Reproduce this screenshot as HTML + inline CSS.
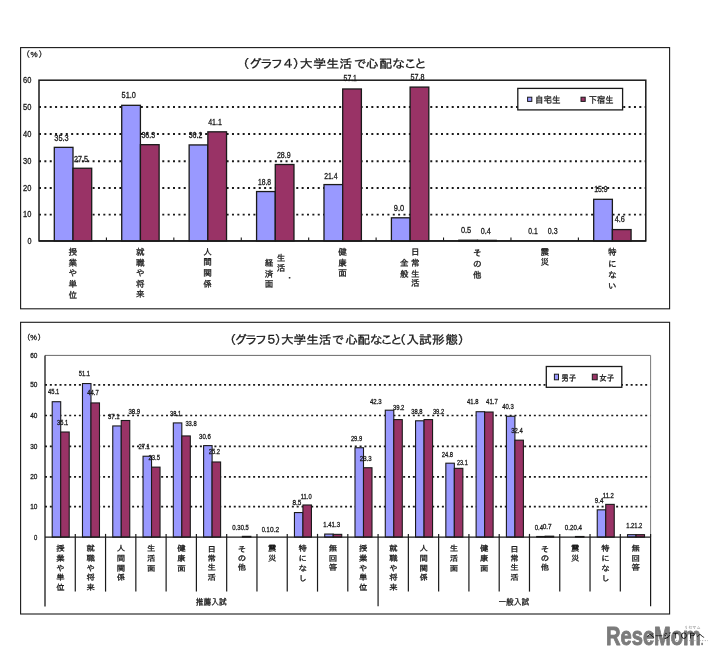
<!DOCTYPE html>
<html lang="ja"><head><meta charset="utf-8"><title>大学生活で心配なこと</title>
<style>html,body{margin:0;padding:0;background:#fff}svg{display:block}text{white-space:pre}</style></head><body>
<svg width="716" height="659" viewBox="0 0 716 659">
<rect x="0" y="0" width="716" height="659" fill="#ffffff"/>
<rect x="20.60" y="47.60" width="649.00" height="261.20" fill="#fff" stroke="#1a1a1a" stroke-width="1.1"/>
<line x1="39.00" y1="214.60" x2="645.80" y2="214.60" stroke="#1a1a1a" stroke-width="1.9" stroke-dasharray="2 3.36"/>
<line x1="39.00" y1="188.00" x2="645.80" y2="188.00" stroke="#1a1a1a" stroke-width="1.9" stroke-dasharray="2 3.36"/>
<line x1="39.00" y1="161.20" x2="645.80" y2="161.20" stroke="#1a1a1a" stroke-width="1.9" stroke-dasharray="2 3.36"/>
<line x1="39.00" y1="134.00" x2="645.80" y2="134.00" stroke="#1a1a1a" stroke-width="1.9" stroke-dasharray="2 3.36"/>
<line x1="39.00" y1="107.00" x2="645.80" y2="107.00" stroke="#1a1a1a" stroke-width="1.9" stroke-dasharray="2 3.36"/>
<rect x="39.00" y="80.20" width="606.80" height="160.70" fill="none" stroke="#1a1a1a" stroke-width="1.5"/>
<rect x="54.30" y="147.35" width="18.70" height="93.55" fill="#9999ff" stroke="#1a1a1a" stroke-width="1.3"/>
<rect x="73.00" y="168.25" width="18.70" height="72.65" fill="#993366" stroke="#1a1a1a" stroke-width="1.3"/>
<rect x="121.72" y="105.31" width="18.70" height="135.59" fill="#9999ff" stroke="#1a1a1a" stroke-width="1.3"/>
<rect x="140.42" y="144.68" width="18.70" height="96.22" fill="#993366" stroke="#1a1a1a" stroke-width="1.3"/>
<line x1="106.42" y1="237.50" x2="106.42" y2="240.90" stroke="#1a1a1a" stroke-width="1.1" />
<rect x="189.14" y="144.94" width="18.70" height="95.96" fill="#9999ff" stroke="#1a1a1a" stroke-width="1.3"/>
<rect x="207.84" y="131.82" width="18.70" height="109.08" fill="#993366" stroke="#1a1a1a" stroke-width="1.3"/>
<line x1="173.84" y1="237.50" x2="173.84" y2="240.90" stroke="#1a1a1a" stroke-width="1.1" />
<rect x="256.57" y="191.55" width="18.70" height="49.35" fill="#9999ff" stroke="#1a1a1a" stroke-width="1.3"/>
<rect x="275.27" y="164.50" width="18.70" height="76.40" fill="#993366" stroke="#1a1a1a" stroke-width="1.3"/>
<line x1="241.27" y1="237.50" x2="241.27" y2="240.90" stroke="#1a1a1a" stroke-width="1.1" />
<rect x="323.99" y="184.58" width="18.70" height="56.32" fill="#9999ff" stroke="#1a1a1a" stroke-width="1.3"/>
<rect x="342.69" y="88.97" width="18.70" height="151.93" fill="#993366" stroke="#1a1a1a" stroke-width="1.3"/>
<line x1="308.69" y1="237.50" x2="308.69" y2="240.90" stroke="#1a1a1a" stroke-width="1.1" />
<rect x="391.41" y="217.80" width="18.70" height="23.10" fill="#9999ff" stroke="#1a1a1a" stroke-width="1.3"/>
<rect x="410.11" y="87.09" width="18.70" height="153.81" fill="#993366" stroke="#1a1a1a" stroke-width="1.3"/>
<line x1="376.11" y1="237.50" x2="376.11" y2="240.90" stroke="#1a1a1a" stroke-width="1.1" />
<rect x="458.83" y="240.23" width="18.70" height="0.67" fill="#9999ff" stroke="#1a1a1a" stroke-width="1.3"/>
<rect x="477.53" y="240.36" width="18.70" height="0.54" fill="#993366" stroke="#1a1a1a" stroke-width="1.3"/>
<line x1="443.53" y1="237.50" x2="443.53" y2="240.90" stroke="#1a1a1a" stroke-width="1.1" />
<line x1="510.96" y1="237.50" x2="510.96" y2="240.90" stroke="#1a1a1a" stroke-width="1.1" />
<rect x="593.68" y="199.31" width="18.70" height="41.59" fill="#9999ff" stroke="#1a1a1a" stroke-width="1.3"/>
<rect x="612.38" y="229.58" width="18.70" height="11.32" fill="#993366" stroke="#1a1a1a" stroke-width="1.3"/>
<line x1="578.38" y1="237.50" x2="578.38" y2="240.90" stroke="#1a1a1a" stroke-width="1.1" />
<line x1="39.00" y1="240.90" x2="645.80" y2="240.90" stroke="#1a1a1a" stroke-width="1.5" />
<text x="31.40" y="243.50" font-size="8.6" font-family='"Liberation Sans",sans-serif' fill="#1a1a1a" stroke="#1a1a1a" stroke-width="0.3" text-anchor="end" textLength="4.00" lengthAdjust="spacingAndGlyphs" >0</text>
<text x="31.40" y="217.20" font-size="8.6" font-family='"Liberation Sans",sans-serif' fill="#1a1a1a" stroke="#1a1a1a" stroke-width="0.3" text-anchor="end" textLength="8.30" lengthAdjust="spacingAndGlyphs" >10</text>
<text x="31.40" y="190.60" font-size="8.6" font-family='"Liberation Sans",sans-serif' fill="#1a1a1a" stroke="#1a1a1a" stroke-width="0.3" text-anchor="end" textLength="8.30" lengthAdjust="spacingAndGlyphs" >20</text>
<text x="31.40" y="163.80" font-size="8.6" font-family='"Liberation Sans",sans-serif' fill="#1a1a1a" stroke="#1a1a1a" stroke-width="0.3" text-anchor="end" textLength="8.30" lengthAdjust="spacingAndGlyphs" >30</text>
<text x="31.40" y="136.60" font-size="8.6" font-family='"Liberation Sans",sans-serif' fill="#1a1a1a" stroke="#1a1a1a" stroke-width="0.3" text-anchor="end" textLength="8.30" lengthAdjust="spacingAndGlyphs" >40</text>
<text x="31.40" y="109.60" font-size="8.6" font-family='"Liberation Sans",sans-serif' fill="#1a1a1a" stroke="#1a1a1a" stroke-width="0.3" text-anchor="end" textLength="8.30" lengthAdjust="spacingAndGlyphs" >50</text>
<text x="31.40" y="82.80" font-size="8.6" font-family='"Liberation Sans",sans-serif' fill="#1a1a1a" stroke="#1a1a1a" stroke-width="0.3" text-anchor="end" textLength="8.30" lengthAdjust="spacingAndGlyphs" >60</text>
<text y="57.4" font-size="8" font-family='"Liberation Sans","IPAGothic",sans-serif' fill="#1a1a1a" stroke="#1a1a1a" stroke-width="0.3"><tspan x="22.0">（</tspan><tspan x="30.4">%</tspan><tspan x="38.4">）</tspan></text>
<text x="225.00 236.30 246.85 256.48 267.04 277.04 283.61 295.97 308.06 320.09 327.31 333.52 344.68 357.04 369.07 379.77 389.35" y="68.00" font-size="12.0" font-family='"Liberation Sans","IPAGothic",sans-serif' fill="#1a1a1a" stroke="#1a1a1a" stroke-width="0.3" text-anchor="middle" transform="scale(1.08 1)">（グラフ４）大学生活 で心配なこと</text>
<rect x="517.80" y="88.40" width="104.80" height="21.50" fill="#fff" stroke="#1a1a1a" stroke-width="1.3"/>
<rect x="527.60" y="97.20" width="4.20" height="4.20" fill="#9999ff" stroke="#1a1a1a" stroke-width="1.0"/>
<text x="535.00" y="102.60" font-size="9" font-family='"Liberation Sans","IPAGothic",sans-serif' fill="#1a1a1a" stroke="#1a1a1a" stroke-width="0.3" text-anchor="start" textLength="25.60" lengthAdjust="spacingAndGlyphs" >自宅生</text>
<rect x="581.00" y="97.20" width="4.20" height="4.20" fill="#993366" stroke="#1a1a1a" stroke-width="1.0"/>
<text x="588.80" y="102.60" font-size="9" font-family='"Liberation Sans","IPAGothic",sans-serif' fill="#1a1a1a" stroke="#1a1a1a" stroke-width="0.3" text-anchor="start" textLength="24.80" lengthAdjust="spacingAndGlyphs" >下宿生</text>
<text x="54.30" y="140.50" font-size="8.6" font-family='"Liberation Sans",sans-serif' fill="#1a1a1a" stroke="#1a1a1a" stroke-width="0.3" text-anchor="start" textLength="14.40" lengthAdjust="spacingAndGlyphs" >35.3</text>
<text x="74.10" y="161.90" font-size="8.6" font-family='"Liberation Sans",sans-serif' fill="#1a1a1a" stroke="#1a1a1a" stroke-width="0.3" text-anchor="start" textLength="14.00" lengthAdjust="spacingAndGlyphs" >27.5</text>
<text x="121.60" y="97.90" font-size="8.6" font-family='"Liberation Sans",sans-serif' fill="#1a1a1a" stroke="#1a1a1a" stroke-width="0.3" text-anchor="start" textLength="14.30" lengthAdjust="spacingAndGlyphs" >51.0</text>
<text x="141.40" y="138.20" font-size="8.6" font-family='"Liberation Sans",sans-serif' fill="#1a1a1a" stroke="#1a1a1a" stroke-width="0.3" text-anchor="start" textLength="13.70" lengthAdjust="spacingAndGlyphs" >36.3</text>
<text x="188.70" y="138.20" font-size="8.6" font-family='"Liberation Sans",sans-serif' fill="#1a1a1a" stroke="#1a1a1a" stroke-width="0.3" text-anchor="start" textLength="13.60" lengthAdjust="spacingAndGlyphs" >36.2</text>
<text x="208.20" y="125.30" font-size="8.6" font-family='"Liberation Sans",sans-serif' fill="#1a1a1a" stroke="#1a1a1a" stroke-width="0.3" text-anchor="start" textLength="13.70" lengthAdjust="spacingAndGlyphs" >41.1</text>
<text x="257.90" y="184.90" font-size="8.6" font-family='"Liberation Sans",sans-serif' fill="#1a1a1a" stroke="#1a1a1a" stroke-width="0.3" text-anchor="start" textLength="13.10" lengthAdjust="spacingAndGlyphs" >18.8</text>
<text x="276.90" y="157.50" font-size="8.6" font-family='"Liberation Sans",sans-serif' fill="#1a1a1a" stroke="#1a1a1a" stroke-width="0.3" text-anchor="start" textLength="13.70" lengthAdjust="spacingAndGlyphs" >28.9</text>
<text x="324.20" y="178.60" font-size="8.6" font-family='"Liberation Sans",sans-serif' fill="#1a1a1a" stroke="#1a1a1a" stroke-width="0.3" text-anchor="start" textLength="13.30" lengthAdjust="spacingAndGlyphs" >21.4</text>
<text x="343.60" y="81.20" font-size="8.6" font-family='"Liberation Sans",sans-serif' fill="#1a1a1a" stroke="#1a1a1a" stroke-width="0.3" text-anchor="start" textLength="13.30" lengthAdjust="spacingAndGlyphs" >57.1</text>
<text x="393.80" y="210.80" font-size="8.6" font-family='"Liberation Sans",sans-serif' fill="#1a1a1a" stroke="#1a1a1a" stroke-width="0.3" text-anchor="start" textLength="10.40" lengthAdjust="spacingAndGlyphs" >9.0</text>
<text x="410.60" y="79.70" font-size="8.6" font-family='"Liberation Sans",sans-serif' fill="#1a1a1a" stroke="#1a1a1a" stroke-width="0.3" text-anchor="start" textLength="13.90" lengthAdjust="spacingAndGlyphs" >57.8</text>
<text x="460.90" y="233.30" font-size="8.6" font-family='"Liberation Sans",sans-serif' fill="#1a1a1a" stroke="#1a1a1a" stroke-width="0.3" text-anchor="start" textLength="10.30" lengthAdjust="spacingAndGlyphs" >0.5</text>
<text x="480.80" y="234.10" font-size="8.6" font-family='"Liberation Sans",sans-serif' fill="#1a1a1a" stroke="#1a1a1a" stroke-width="0.3" text-anchor="start" textLength="10.00" lengthAdjust="spacingAndGlyphs" >0.4</text>
<text x="528.30" y="234.10" font-size="8.6" font-family='"Liberation Sans",sans-serif' fill="#1a1a1a" stroke="#1a1a1a" stroke-width="0.3" text-anchor="start" textLength="9.40" lengthAdjust="spacingAndGlyphs" >0.1</text>
<text x="547.80" y="234.10" font-size="8.6" font-family='"Liberation Sans",sans-serif' fill="#1a1a1a" stroke="#1a1a1a" stroke-width="0.3" text-anchor="start" textLength="9.80" lengthAdjust="spacingAndGlyphs" >0.3</text>
<text x="594.20" y="192.00" font-size="8.6" font-family='"Liberation Sans",sans-serif' fill="#1a1a1a" stroke="#1a1a1a" stroke-width="0.3" text-anchor="start" textLength="13.30" lengthAdjust="spacingAndGlyphs" >15.9</text>
<text x="614.70" y="222.30" font-size="8.6" font-family='"Liberation Sans",sans-serif' fill="#1a1a1a" stroke="#1a1a1a" stroke-width="0.3" text-anchor="start" textLength="10.00" lengthAdjust="spacingAndGlyphs" >4.6</text>
<text x="72.31" y="247.00" font-size="8.6" font-family='"Liberation Sans","IPAGothic",sans-serif' fill="#1a1a1a" stroke="#1a1a1a" stroke-width="0.3" letter-spacing="1.90" style="writing-mode:vertical-rl;text-orientation:upright">授業や単位</text>
<text x="139.73" y="247.00" font-size="8.6" font-family='"Liberation Sans","IPAGothic",sans-serif' fill="#1a1a1a" stroke="#1a1a1a" stroke-width="0.3" letter-spacing="1.90" style="writing-mode:vertical-rl;text-orientation:upright">就職や将来</text>
<text x="207.16" y="247.00" font-size="8.6" font-family='"Liberation Sans","IPAGothic",sans-serif' fill="#1a1a1a" stroke="#1a1a1a" stroke-width="0.3" letter-spacing="1.90" style="writing-mode:vertical-rl;text-orientation:upright">人間関係</text>
<text x="280.60" y="252.90" font-size="8.6" font-family='"Liberation Sans","IPAGothic",sans-serif' fill="#1a1a1a" stroke="#1a1a1a" stroke-width="0.3" letter-spacing="1.90" style="writing-mode:vertical-rl;text-orientation:upright">生活</text>
<text x="285.20" y="281.40" font-size="8.6" font-family='"Liberation Sans","IPAGothic",sans-serif' fill="#1a1a1a" stroke="#1a1a1a" stroke-width="0.3" text-anchor="start" >・</text>
<text x="268.60" y="258.00" font-size="8.6" font-family='"Liberation Sans","IPAGothic",sans-serif' fill="#1a1a1a" stroke="#1a1a1a" stroke-width="0.3" letter-spacing="1.90" style="writing-mode:vertical-rl;text-orientation:upright">経済面</text>
<text x="342.00" y="247.00" font-size="8.6" font-family='"Liberation Sans","IPAGothic",sans-serif' fill="#1a1a1a" stroke="#1a1a1a" stroke-width="0.3" letter-spacing="1.90" style="writing-mode:vertical-rl;text-orientation:upright">健康面</text>
<text x="414.80" y="247.00" font-size="8.6" font-family='"Liberation Sans","IPAGothic",sans-serif' fill="#1a1a1a" stroke="#1a1a1a" stroke-width="0.3" letter-spacing="1.90" style="writing-mode:vertical-rl;text-orientation:upright">日常生活</text>
<text x="403.70" y="258.40" font-size="8.6" font-family='"Liberation Sans","IPAGothic",sans-serif' fill="#1a1a1a" stroke="#1a1a1a" stroke-width="0.3" letter-spacing="1.90" style="writing-mode:vertical-rl;text-orientation:upright">全般</text>
<text x="476.84" y="248.00" font-size="8.6" font-family='"Liberation Sans","IPAGothic",sans-serif' fill="#1a1a1a" stroke="#1a1a1a" stroke-width="0.3" letter-spacing="1.90" style="writing-mode:vertical-rl;text-orientation:upright">その他</text>
<text x="544.27" y="247.00" font-size="8.6" font-family='"Liberation Sans","IPAGothic",sans-serif' fill="#1a1a1a" stroke="#1a1a1a" stroke-width="0.3" letter-spacing="1.90" style="writing-mode:vertical-rl;text-orientation:upright">震災</text>
<text x="611.69" y="247.00" font-size="8.6" font-family='"Liberation Sans","IPAGothic",sans-serif' fill="#1a1a1a" stroke="#1a1a1a" stroke-width="0.3" letter-spacing="2.90" style="writing-mode:vertical-rl;text-orientation:upright">特にない</text>
<rect x="20.60" y="322.30" width="649.00" height="291.70" fill="#fff" stroke="#1a1a1a" stroke-width="1.1"/>
<line x1="45.00" y1="506.60" x2="650.60" y2="506.60" stroke="#1a1a1a" stroke-width="1.7" stroke-dasharray="2 2.84"/>
<line x1="45.00" y1="476.90" x2="650.60" y2="476.90" stroke="#1a1a1a" stroke-width="1.7" stroke-dasharray="2 2.84"/>
<line x1="45.00" y1="446.30" x2="650.60" y2="446.30" stroke="#1a1a1a" stroke-width="1.7" stroke-dasharray="2 2.84"/>
<line x1="45.00" y1="415.50" x2="650.60" y2="415.50" stroke="#1a1a1a" stroke-width="1.7" stroke-dasharray="2 2.84"/>
<line x1="45.00" y1="384.90" x2="650.60" y2="384.90" stroke="#1a1a1a" stroke-width="1.7" stroke-dasharray="2 2.84"/>
<line x1="45.00" y1="355.40" x2="650.60" y2="355.40" stroke="#6a6a6a" stroke-width="1.0" />
<line x1="650.60" y1="355.40" x2="650.60" y2="537.10" stroke="#7a7a7a" stroke-width="1.0" />
<rect x="52.20" y="401.72" width="8.50" height="135.38" fill="#9999ff" stroke="#1a1a1a" stroke-width="1.1"/>
<rect x="60.70" y="432.01" width="8.50" height="105.09" fill="#993366" stroke="#1a1a1a" stroke-width="1.1"/>
<rect x="82.48" y="383.55" width="8.50" height="153.55" fill="#9999ff" stroke="#1a1a1a" stroke-width="1.1"/>
<rect x="90.98" y="402.93" width="8.50" height="134.17" fill="#993366" stroke="#1a1a1a" stroke-width="1.1"/>
<rect x="112.76" y="425.95" width="8.50" height="111.15" fill="#9999ff" stroke="#1a1a1a" stroke-width="1.1"/>
<rect x="121.26" y="420.50" width="8.50" height="116.60" fill="#993366" stroke="#1a1a1a" stroke-width="1.1"/>
<rect x="143.04" y="456.23" width="8.50" height="80.87" fill="#9999ff" stroke="#1a1a1a" stroke-width="1.1"/>
<rect x="151.54" y="467.13" width="8.50" height="69.97" fill="#993366" stroke="#1a1a1a" stroke-width="1.1"/>
<rect x="173.32" y="422.92" width="8.50" height="114.18" fill="#9999ff" stroke="#1a1a1a" stroke-width="1.1"/>
<rect x="181.82" y="435.94" width="8.50" height="101.16" fill="#993366" stroke="#1a1a1a" stroke-width="1.1"/>
<rect x="203.60" y="445.63" width="8.50" height="91.47" fill="#9999ff" stroke="#1a1a1a" stroke-width="1.1"/>
<rect x="212.10" y="461.99" width="8.50" height="75.11" fill="#993366" stroke="#1a1a1a" stroke-width="1.1"/>
<rect x="242.38" y="536.34" width="8.50" height="0.76" fill="#993366" stroke="#1a1a1a" stroke-width="1.1"/>
<rect x="294.44" y="512.56" width="8.50" height="24.54" fill="#9999ff" stroke="#1a1a1a" stroke-width="1.1"/>
<rect x="302.94" y="504.99" width="8.50" height="32.11" fill="#993366" stroke="#1a1a1a" stroke-width="1.1"/>
<rect x="324.72" y="534.06" width="8.50" height="3.04" fill="#9999ff" stroke="#1a1a1a" stroke-width="1.1"/>
<rect x="333.22" y="534.36" width="8.50" height="2.74" fill="#993366" stroke="#1a1a1a" stroke-width="1.1"/>
<rect x="355.00" y="447.75" width="8.50" height="89.35" fill="#9999ff" stroke="#1a1a1a" stroke-width="1.1"/>
<rect x="363.50" y="467.74" width="8.50" height="69.36" fill="#993366" stroke="#1a1a1a" stroke-width="1.1"/>
<rect x="385.28" y="410.20" width="8.50" height="126.90" fill="#9999ff" stroke="#1a1a1a" stroke-width="1.1"/>
<rect x="393.78" y="419.59" width="8.50" height="117.51" fill="#993366" stroke="#1a1a1a" stroke-width="1.1"/>
<rect x="415.56" y="420.80" width="8.50" height="116.30" fill="#9999ff" stroke="#1a1a1a" stroke-width="1.1"/>
<rect x="424.06" y="419.59" width="8.50" height="117.51" fill="#993366" stroke="#1a1a1a" stroke-width="1.1"/>
<rect x="445.84" y="463.20" width="8.50" height="73.90" fill="#9999ff" stroke="#1a1a1a" stroke-width="1.1"/>
<rect x="454.34" y="468.35" width="8.50" height="68.75" fill="#993366" stroke="#1a1a1a" stroke-width="1.1"/>
<rect x="476.12" y="411.72" width="8.50" height="125.38" fill="#9999ff" stroke="#1a1a1a" stroke-width="1.1"/>
<rect x="484.62" y="412.02" width="8.50" height="125.08" fill="#993366" stroke="#1a1a1a" stroke-width="1.1"/>
<rect x="506.40" y="416.26" width="8.50" height="120.84" fill="#9999ff" stroke="#1a1a1a" stroke-width="1.1"/>
<rect x="514.90" y="440.18" width="8.50" height="96.92" fill="#993366" stroke="#1a1a1a" stroke-width="1.1"/>
<rect x="536.68" y="536.49" width="8.50" height="0.61" fill="#9999ff" stroke="#1a1a1a" stroke-width="1.1"/>
<rect x="545.18" y="536.18" width="8.50" height="0.92" fill="#993366" stroke="#1a1a1a" stroke-width="1.1"/>
<rect x="575.46" y="536.49" width="8.50" height="0.61" fill="#993366" stroke="#1a1a1a" stroke-width="1.1"/>
<rect x="597.24" y="509.83" width="8.50" height="27.27" fill="#9999ff" stroke="#1a1a1a" stroke-width="1.1"/>
<rect x="605.74" y="504.38" width="8.50" height="32.72" fill="#993366" stroke="#1a1a1a" stroke-width="1.1"/>
<rect x="627.52" y="534.67" width="8.50" height="2.43" fill="#9999ff" stroke="#1a1a1a" stroke-width="1.1"/>
<rect x="636.02" y="534.67" width="8.50" height="2.43" fill="#993366" stroke="#1a1a1a" stroke-width="1.1"/>
<line x1="45.00" y1="355.40" x2="45.00" y2="606.50" stroke="#1a1a1a" stroke-width="1.3" />
<line x1="45.00" y1="537.10" x2="650.60" y2="537.10" stroke="#1a1a1a" stroke-width="1.4" />
<line x1="75.28" y1="533.90" x2="75.28" y2="591.60" stroke="#1a1a1a" stroke-width="1.2" />
<line x1="105.56" y1="533.90" x2="105.56" y2="591.60" stroke="#1a1a1a" stroke-width="1.2" />
<line x1="135.84" y1="533.90" x2="135.84" y2="591.60" stroke="#1a1a1a" stroke-width="1.2" />
<line x1="166.12" y1="533.90" x2="166.12" y2="591.60" stroke="#1a1a1a" stroke-width="1.2" />
<line x1="196.40" y1="533.90" x2="196.40" y2="591.60" stroke="#1a1a1a" stroke-width="1.2" />
<line x1="226.68" y1="533.90" x2="226.68" y2="591.60" stroke="#1a1a1a" stroke-width="1.2" />
<line x1="256.96" y1="533.90" x2="256.96" y2="591.60" stroke="#1a1a1a" stroke-width="1.2" />
<line x1="287.24" y1="533.90" x2="287.24" y2="591.60" stroke="#1a1a1a" stroke-width="1.2" />
<line x1="317.52" y1="533.90" x2="317.52" y2="591.60" stroke="#1a1a1a" stroke-width="1.2" />
<line x1="347.80" y1="533.90" x2="347.80" y2="591.60" stroke="#1a1a1a" stroke-width="1.2" />
<line x1="378.08" y1="533.90" x2="378.08" y2="606.30" stroke="#1a1a1a" stroke-width="1.2" />
<line x1="408.36" y1="533.90" x2="408.36" y2="591.60" stroke="#1a1a1a" stroke-width="1.2" />
<line x1="438.64" y1="533.90" x2="438.64" y2="591.60" stroke="#1a1a1a" stroke-width="1.2" />
<line x1="468.92" y1="533.90" x2="468.92" y2="591.60" stroke="#1a1a1a" stroke-width="1.2" />
<line x1="499.20" y1="533.90" x2="499.20" y2="591.60" stroke="#1a1a1a" stroke-width="1.2" />
<line x1="529.48" y1="533.90" x2="529.48" y2="591.60" stroke="#1a1a1a" stroke-width="1.2" />
<line x1="559.76" y1="533.90" x2="559.76" y2="591.60" stroke="#1a1a1a" stroke-width="1.2" />
<line x1="590.04" y1="533.90" x2="590.04" y2="591.60" stroke="#1a1a1a" stroke-width="1.2" />
<line x1="620.32" y1="533.90" x2="620.32" y2="591.60" stroke="#1a1a1a" stroke-width="1.2" />
<line x1="650.60" y1="533.90" x2="650.60" y2="606.30" stroke="#1a1a1a" stroke-width="1.2" />
<text x="37.40" y="539.50" font-size="7.5" font-family='"Liberation Sans",sans-serif' fill="#1a1a1a" stroke="#1a1a1a" stroke-width="0.3" text-anchor="end" textLength="3.30" lengthAdjust="spacingAndGlyphs" >0</text>
<text x="37.40" y="509.00" font-size="7.5" font-family='"Liberation Sans",sans-serif' fill="#1a1a1a" stroke="#1a1a1a" stroke-width="0.3" text-anchor="end" textLength="7.20" lengthAdjust="spacingAndGlyphs" >10</text>
<text x="37.40" y="479.30" font-size="7.5" font-family='"Liberation Sans",sans-serif' fill="#1a1a1a" stroke="#1a1a1a" stroke-width="0.3" text-anchor="end" textLength="7.20" lengthAdjust="spacingAndGlyphs" >20</text>
<text x="37.40" y="448.70" font-size="7.5" font-family='"Liberation Sans",sans-serif' fill="#1a1a1a" stroke="#1a1a1a" stroke-width="0.3" text-anchor="end" textLength="7.20" lengthAdjust="spacingAndGlyphs" >30</text>
<text x="37.40" y="417.90" font-size="7.5" font-family='"Liberation Sans",sans-serif' fill="#1a1a1a" stroke="#1a1a1a" stroke-width="0.3" text-anchor="end" textLength="7.20" lengthAdjust="spacingAndGlyphs" >40</text>
<text x="37.40" y="387.30" font-size="7.5" font-family='"Liberation Sans",sans-serif' fill="#1a1a1a" stroke="#1a1a1a" stroke-width="0.3" text-anchor="end" textLength="7.20" lengthAdjust="spacingAndGlyphs" >50</text>
<text x="37.40" y="357.80" font-size="7.5" font-family='"Liberation Sans",sans-serif' fill="#1a1a1a" stroke="#1a1a1a" stroke-width="0.3" text-anchor="end" textLength="7.20" lengthAdjust="spacingAndGlyphs" >60</text>
<text y="340.0" font-size="7.5" font-family='"Liberation Sans","IPAGothic",sans-serif' fill="#1a1a1a" stroke="#1a1a1a" stroke-width="0.3"><tspan x="22.9">（</tspan><tspan x="30.3">%</tspan><tspan x="37.4">）</tspan></text>
<text x="216.79 227.08 236.98 246.42 255.94 265.09 271.13 282.83 294.81 306.60 318.87 331.60 343.30 354.72 364.62 373.96 376.98 389.15 401.32 413.58 425.94 437.92" y="344.10" font-size="12.0" font-family='"Liberation Sans","IPAGothic",sans-serif' fill="#1a1a1a" stroke="#1a1a1a" stroke-width="0.3" text-anchor="middle" transform="scale(1.06 1)">（グラフ５）大学生活で心配なこと（入試形態）</text>
<rect x="546.30" y="366.50" width="75.50" height="20.80" fill="#fff" stroke="#1a1a1a" stroke-width="1.3"/>
<rect x="554.40" y="374.20" width="4.10" height="5.60" fill="#9999ff" stroke="#1a1a1a" stroke-width="1.0"/>
<text x="561.30" y="380.60" font-size="8.5" font-family='"Liberation Sans","IPAGothic",sans-serif' fill="#1a1a1a" stroke="#1a1a1a" stroke-width="0.3" text-anchor="start" textLength="15.00" lengthAdjust="spacingAndGlyphs" >男子</text>
<rect x="592.30" y="374.20" width="4.90" height="5.60" fill="#993366" stroke="#1a1a1a" stroke-width="1.0"/>
<text x="599.20" y="380.60" font-size="8.5" font-family='"Liberation Sans","IPAGothic",sans-serif' fill="#1a1a1a" stroke="#1a1a1a" stroke-width="0.3" text-anchor="start" textLength="15.00" lengthAdjust="spacingAndGlyphs" >女子</text>
<text x="48.00" y="394.40" font-size="7" font-family='"Liberation Sans",sans-serif' fill="#1a1a1a" stroke="#1a1a1a" stroke-width="0.3" text-anchor="start" textLength="11.30" lengthAdjust="spacingAndGlyphs" >45.1</text>
<text x="57.10" y="425.30" font-size="7" font-family='"Liberation Sans",sans-serif' fill="#1a1a1a" stroke="#1a1a1a" stroke-width="0.3" text-anchor="start" textLength="11.10" lengthAdjust="spacingAndGlyphs" >35.1</text>
<text x="78.80" y="376.00" font-size="7" font-family='"Liberation Sans",sans-serif' fill="#1a1a1a" stroke="#1a1a1a" stroke-width="0.3" text-anchor="start" textLength="11.10" lengthAdjust="spacingAndGlyphs" >51.1</text>
<text x="87.30" y="395.30" font-size="7" font-family='"Liberation Sans",sans-serif' fill="#1a1a1a" stroke="#1a1a1a" stroke-width="0.3" text-anchor="start" textLength="11.50" lengthAdjust="spacingAndGlyphs" >44.7</text>
<text x="107.90" y="419.40" font-size="7" font-family='"Liberation Sans",sans-serif' fill="#1a1a1a" stroke="#1a1a1a" stroke-width="0.3" text-anchor="start" textLength="11.70" lengthAdjust="spacingAndGlyphs" >37.1</text>
<text x="128.40" y="413.60" font-size="7" font-family='"Liberation Sans",sans-serif' fill="#1a1a1a" stroke="#1a1a1a" stroke-width="0.3" text-anchor="start" textLength="11.80" lengthAdjust="spacingAndGlyphs" >38.9</text>
<text x="138.50" y="448.90" font-size="7" font-family='"Liberation Sans",sans-serif' fill="#1a1a1a" stroke="#1a1a1a" stroke-width="0.3" text-anchor="start" textLength="11.30" lengthAdjust="spacingAndGlyphs" >27.1</text>
<text x="148.50" y="459.90" font-size="7" font-family='"Liberation Sans",sans-serif' fill="#1a1a1a" stroke="#1a1a1a" stroke-width="0.3" text-anchor="start" textLength="11.40" lengthAdjust="spacingAndGlyphs" >23.5</text>
<text x="170.00" y="416.30" font-size="7" font-family='"Liberation Sans",sans-serif' fill="#1a1a1a" stroke="#1a1a1a" stroke-width="0.3" text-anchor="start" textLength="11.10" lengthAdjust="spacingAndGlyphs" >38.1</text>
<text x="185.40" y="426.10" font-size="7" font-family='"Liberation Sans",sans-serif' fill="#1a1a1a" stroke="#1a1a1a" stroke-width="0.3" text-anchor="start" textLength="11.30" lengthAdjust="spacingAndGlyphs" >33.8</text>
<text x="199.10" y="438.50" font-size="7" font-family='"Liberation Sans",sans-serif' fill="#1a1a1a" stroke="#1a1a1a" stroke-width="0.3" text-anchor="start" textLength="11.80" lengthAdjust="spacingAndGlyphs" >30.6</text>
<text x="208.70" y="454.20" font-size="7" font-family='"Liberation Sans",sans-serif' fill="#1a1a1a" stroke="#1a1a1a" stroke-width="0.3" text-anchor="start" textLength="11.30" lengthAdjust="spacingAndGlyphs" >25.2</text>
<text x="232.20" y="530.40" font-size="7" font-family='"Liberation Sans",sans-serif' fill="#1a1a1a" stroke="#1a1a1a" stroke-width="0.3" text-anchor="start" textLength="8.40" lengthAdjust="spacingAndGlyphs" >0.3</text>
<text x="240.70" y="530.40" font-size="7" font-family='"Liberation Sans",sans-serif' fill="#1a1a1a" stroke="#1a1a1a" stroke-width="0.3" text-anchor="start" textLength="8.10" lengthAdjust="spacingAndGlyphs" >0.5</text>
<text x="261.70" y="531.70" font-size="7" font-family='"Liberation Sans",sans-serif' fill="#1a1a1a" stroke="#1a1a1a" stroke-width="0.3" text-anchor="start" textLength="7.90" lengthAdjust="spacingAndGlyphs" >0.1</text>
<text x="270.10" y="531.70" font-size="7" font-family='"Liberation Sans",sans-serif' fill="#1a1a1a" stroke="#1a1a1a" stroke-width="0.3" text-anchor="start" textLength="9.20" lengthAdjust="spacingAndGlyphs" >0.2</text>
<text x="292.50" y="505.40" font-size="7" font-family='"Liberation Sans",sans-serif' fill="#1a1a1a" stroke="#1a1a1a" stroke-width="0.3" text-anchor="start" textLength="8.90" lengthAdjust="spacingAndGlyphs" >8.5</text>
<text x="300.80" y="498.70" font-size="7" font-family='"Liberation Sans",sans-serif' fill="#1a1a1a" stroke="#1a1a1a" stroke-width="0.3" text-anchor="start" textLength="10.80" lengthAdjust="spacingAndGlyphs" >11.0</text>
<text x="323.30" y="526.80" font-size="7" font-family='"Liberation Sans",sans-serif' fill="#1a1a1a" stroke="#1a1a1a" stroke-width="0.3" text-anchor="start" textLength="8.20" lengthAdjust="spacingAndGlyphs" >1.4</text>
<text x="331.60" y="526.80" font-size="7" font-family='"Liberation Sans",sans-serif' fill="#1a1a1a" stroke="#1a1a1a" stroke-width="0.3" text-anchor="start" textLength="8.40" lengthAdjust="spacingAndGlyphs" >1.3</text>
<text x="350.90" y="441.10" font-size="7" font-family='"Liberation Sans",sans-serif' fill="#1a1a1a" stroke="#1a1a1a" stroke-width="0.3" text-anchor="start" textLength="11.30" lengthAdjust="spacingAndGlyphs" >29.9</text>
<text x="359.80" y="460.60" font-size="7" font-family='"Liberation Sans",sans-serif' fill="#1a1a1a" stroke="#1a1a1a" stroke-width="0.3" text-anchor="start" textLength="11.80" lengthAdjust="spacingAndGlyphs" >23.3</text>
<text x="369.90" y="404.20" font-size="7" font-family='"Liberation Sans",sans-serif' fill="#1a1a1a" stroke="#1a1a1a" stroke-width="0.3" text-anchor="start" textLength="11.70" lengthAdjust="spacingAndGlyphs" >42.3</text>
<text x="392.90" y="410.00" font-size="7" font-family='"Liberation Sans",sans-serif' fill="#1a1a1a" stroke="#1a1a1a" stroke-width="0.3" text-anchor="start" textLength="11.50" lengthAdjust="spacingAndGlyphs" >39.2</text>
<text x="411.20" y="413.60" font-size="7" font-family='"Liberation Sans",sans-serif' fill="#1a1a1a" stroke="#1a1a1a" stroke-width="0.3" text-anchor="start" textLength="11.30" lengthAdjust="spacingAndGlyphs" >38.8</text>
<text x="432.90" y="413.60" font-size="7" font-family='"Liberation Sans",sans-serif' fill="#1a1a1a" stroke="#1a1a1a" stroke-width="0.3" text-anchor="start" textLength="11.30" lengthAdjust="spacingAndGlyphs" >39.2</text>
<text x="441.80" y="456.80" font-size="7" font-family='"Liberation Sans",sans-serif' fill="#1a1a1a" stroke="#1a1a1a" stroke-width="0.3" text-anchor="start" textLength="11.30" lengthAdjust="spacingAndGlyphs" >24.8</text>
<text x="457.00" y="465.00" font-size="7" font-family='"Liberation Sans",sans-serif' fill="#1a1a1a" stroke="#1a1a1a" stroke-width="0.3" text-anchor="start" textLength="10.70" lengthAdjust="spacingAndGlyphs" >23.1</text>
<text x="467.10" y="404.20" font-size="7" font-family='"Liberation Sans",sans-serif' fill="#1a1a1a" stroke="#1a1a1a" stroke-width="0.3" text-anchor="start" textLength="11.30" lengthAdjust="spacingAndGlyphs" >41.8</text>
<text x="486.10" y="404.20" font-size="7" font-family='"Liberation Sans",sans-serif' fill="#1a1a1a" stroke="#1a1a1a" stroke-width="0.3" text-anchor="start" textLength="11.70" lengthAdjust="spacingAndGlyphs" >41.7</text>
<text x="502.20" y="408.90" font-size="7" font-family='"Liberation Sans",sans-serif' fill="#1a1a1a" stroke="#1a1a1a" stroke-width="0.3" text-anchor="start" textLength="11.50" lengthAdjust="spacingAndGlyphs" >40.3</text>
<text x="511.30" y="432.80" font-size="7" font-family='"Liberation Sans",sans-serif' fill="#1a1a1a" stroke="#1a1a1a" stroke-width="0.3" text-anchor="start" textLength="11.50" lengthAdjust="spacingAndGlyphs" >32.4</text>
<text x="534.80" y="530.00" font-size="7" font-family='"Liberation Sans",sans-serif' fill="#1a1a1a" stroke="#1a1a1a" stroke-width="0.3" text-anchor="start" textLength="8.30" lengthAdjust="spacingAndGlyphs" >0.4</text>
<text x="542.70" y="529.30" font-size="7" font-family='"Liberation Sans",sans-serif' fill="#1a1a1a" stroke="#1a1a1a" stroke-width="0.3" text-anchor="start" textLength="9.00" lengthAdjust="spacingAndGlyphs" >0.7</text>
<text x="564.80" y="530.40" font-size="7" font-family='"Liberation Sans",sans-serif' fill="#1a1a1a" stroke="#1a1a1a" stroke-width="0.3" text-anchor="start" textLength="8.60" lengthAdjust="spacingAndGlyphs" >0.2</text>
<text x="573.50" y="530.40" font-size="7" font-family='"Liberation Sans",sans-serif' fill="#1a1a1a" stroke="#1a1a1a" stroke-width="0.3" text-anchor="start" textLength="8.50" lengthAdjust="spacingAndGlyphs" >0.4</text>
<text x="594.80" y="503.30" font-size="7" font-family='"Liberation Sans",sans-serif' fill="#1a1a1a" stroke="#1a1a1a" stroke-width="0.3" text-anchor="start" textLength="8.60" lengthAdjust="spacingAndGlyphs" >9.4</text>
<text x="602.80" y="497.60" font-size="7" font-family='"Liberation Sans",sans-serif' fill="#1a1a1a" stroke="#1a1a1a" stroke-width="0.3" text-anchor="start" textLength="11.10" lengthAdjust="spacingAndGlyphs" >11.2</text>
<text x="626.20" y="528.40" font-size="7" font-family='"Liberation Sans",sans-serif' fill="#1a1a1a" stroke="#1a1a1a" stroke-width="0.3" text-anchor="start" textLength="8.20" lengthAdjust="spacingAndGlyphs" >1.2</text>
<text x="634.20" y="528.40" font-size="7" font-family='"Liberation Sans",sans-serif' fill="#1a1a1a" stroke="#1a1a1a" stroke-width="0.3" text-anchor="start" textLength="8.10" lengthAdjust="spacingAndGlyphs" >1.2</text>
<text x="54.90" y="543.90" font-size="7.7" font-family='"Liberation Sans","IPAGothic",sans-serif' fill="#1a1a1a" stroke="#1a1a1a" stroke-width="0.3" letter-spacing="2.00" transform="scale(1.09 1)" style="writing-mode:vertical-rl;text-orientation:upright">授業や単位</text>
<text x="82.68" y="543.90" font-size="7.7" font-family='"Liberation Sans","IPAGothic",sans-serif' fill="#1a1a1a" stroke="#1a1a1a" stroke-width="0.3" letter-spacing="2.00" transform="scale(1.09 1)" style="writing-mode:vertical-rl;text-orientation:upright">就職や将来</text>
<text x="110.46" y="543.90" font-size="7.7" font-family='"Liberation Sans","IPAGothic",sans-serif' fill="#1a1a1a" stroke="#1a1a1a" stroke-width="0.3" letter-spacing="2.00" transform="scale(1.09 1)" style="writing-mode:vertical-rl;text-orientation:upright">人間関係</text>
<text x="138.24" y="543.90" font-size="7.7" font-family='"Liberation Sans","IPAGothic",sans-serif' fill="#1a1a1a" stroke="#1a1a1a" stroke-width="0.3" letter-spacing="2.00" transform="scale(1.09 1)" style="writing-mode:vertical-rl;text-orientation:upright">生活面</text>
<text x="166.02" y="543.90" font-size="7.7" font-family='"Liberation Sans","IPAGothic",sans-serif' fill="#1a1a1a" stroke="#1a1a1a" stroke-width="0.3" letter-spacing="2.00" transform="scale(1.09 1)" style="writing-mode:vertical-rl;text-orientation:upright">健康面</text>
<text x="193.80" y="543.90" font-size="7.7" font-family='"Liberation Sans","IPAGothic",sans-serif' fill="#1a1a1a" stroke="#1a1a1a" stroke-width="0.3" letter-spacing="2.00" transform="scale(1.09 1)" style="writing-mode:vertical-rl;text-orientation:upright">日常生活</text>
<text x="221.58" y="543.90" font-size="7.7" font-family='"Liberation Sans","IPAGothic",sans-serif' fill="#1a1a1a" stroke="#1a1a1a" stroke-width="0.3" letter-spacing="2.00" transform="scale(1.09 1)" style="writing-mode:vertical-rl;text-orientation:upright">その他</text>
<text x="249.36" y="543.90" font-size="7.7" font-family='"Liberation Sans","IPAGothic",sans-serif' fill="#1a1a1a" stroke="#1a1a1a" stroke-width="0.3" letter-spacing="2.00" transform="scale(1.09 1)" style="writing-mode:vertical-rl;text-orientation:upright">震災</text>
<text x="277.14" y="543.90" font-size="7.7" font-family='"Liberation Sans","IPAGothic",sans-serif' fill="#1a1a1a" stroke="#1a1a1a" stroke-width="0.3" letter-spacing="2.00" transform="scale(1.09 1)" style="writing-mode:vertical-rl;text-orientation:upright">特になし</text>
<text x="304.92" y="543.90" font-size="7.7" font-family='"Liberation Sans","IPAGothic",sans-serif' fill="#1a1a1a" stroke="#1a1a1a" stroke-width="0.3" letter-spacing="2.00" transform="scale(1.09 1)" style="writing-mode:vertical-rl;text-orientation:upright">無回答</text>
<text x="332.70" y="543.90" font-size="7.7" font-family='"Liberation Sans","IPAGothic",sans-serif' fill="#1a1a1a" stroke="#1a1a1a" stroke-width="0.3" letter-spacing="2.00" transform="scale(1.09 1)" style="writing-mode:vertical-rl;text-orientation:upright">授業や単位</text>
<text x="360.48" y="543.90" font-size="7.7" font-family='"Liberation Sans","IPAGothic",sans-serif' fill="#1a1a1a" stroke="#1a1a1a" stroke-width="0.3" letter-spacing="2.00" transform="scale(1.09 1)" style="writing-mode:vertical-rl;text-orientation:upright">就職や将来</text>
<text x="388.26" y="543.90" font-size="7.7" font-family='"Liberation Sans","IPAGothic",sans-serif' fill="#1a1a1a" stroke="#1a1a1a" stroke-width="0.3" letter-spacing="2.00" transform="scale(1.09 1)" style="writing-mode:vertical-rl;text-orientation:upright">人間関係</text>
<text x="416.04" y="543.90" font-size="7.7" font-family='"Liberation Sans","IPAGothic",sans-serif' fill="#1a1a1a" stroke="#1a1a1a" stroke-width="0.3" letter-spacing="2.00" transform="scale(1.09 1)" style="writing-mode:vertical-rl;text-orientation:upright">生活面</text>
<text x="443.82" y="543.90" font-size="7.7" font-family='"Liberation Sans","IPAGothic",sans-serif' fill="#1a1a1a" stroke="#1a1a1a" stroke-width="0.3" letter-spacing="2.00" transform="scale(1.09 1)" style="writing-mode:vertical-rl;text-orientation:upright">健康面</text>
<text x="471.60" y="543.90" font-size="7.7" font-family='"Liberation Sans","IPAGothic",sans-serif' fill="#1a1a1a" stroke="#1a1a1a" stroke-width="0.3" letter-spacing="2.00" transform="scale(1.09 1)" style="writing-mode:vertical-rl;text-orientation:upright">日常生活</text>
<text x="499.38" y="543.90" font-size="7.7" font-family='"Liberation Sans","IPAGothic",sans-serif' fill="#1a1a1a" stroke="#1a1a1a" stroke-width="0.3" letter-spacing="2.00" transform="scale(1.09 1)" style="writing-mode:vertical-rl;text-orientation:upright">その他</text>
<text x="527.16" y="543.90" font-size="7.7" font-family='"Liberation Sans","IPAGothic",sans-serif' fill="#1a1a1a" stroke="#1a1a1a" stroke-width="0.3" letter-spacing="2.00" transform="scale(1.09 1)" style="writing-mode:vertical-rl;text-orientation:upright">震災</text>
<text x="554.94" y="543.90" font-size="7.7" font-family='"Liberation Sans","IPAGothic",sans-serif' fill="#1a1a1a" stroke="#1a1a1a" stroke-width="0.3" letter-spacing="2.00" transform="scale(1.09 1)" style="writing-mode:vertical-rl;text-orientation:upright">特になし</text>
<text x="582.72" y="543.90" font-size="7.7" font-family='"Liberation Sans","IPAGothic",sans-serif' fill="#1a1a1a" stroke="#1a1a1a" stroke-width="0.3" letter-spacing="2.00" transform="scale(1.09 1)" style="writing-mode:vertical-rl;text-orientation:upright">無回答</text>
<text x="211.20" y="605.20" font-size="8.5" font-family='"Liberation Sans","IPAGothic",sans-serif' fill="#1a1a1a" stroke="#1a1a1a" stroke-width="0.3" text-anchor="middle" textLength="30.80" lengthAdjust="spacingAndGlyphs" >推薦入試</text>
<text x="513.80" y="605.20" font-size="8.5" font-family='"Liberation Sans","IPAGothic",sans-serif' fill="#1a1a1a" stroke="#1a1a1a" stroke-width="0.3" text-anchor="middle" textLength="30.80" lengthAdjust="spacingAndGlyphs" >一般入試</text>
<text x="606.0" y="645.1" font-size="25.4" font-weight="bold" font-family='"Liberation Sans",sans-serif' fill="#7b7b7b" stroke="#7b7b7b" stroke-width="0.9" stroke-linejoin="round" textLength="95.0" lengthAdjust="spacingAndGlyphs">ReseMom</text>
<text x="684.0" y="628.8" font-size="4.2" font-family='"Liberation Sans","IPAGothic",sans-serif' fill="#8a8a8a" textLength="16.6" lengthAdjust="spacingAndGlyphs">リセマム</text>
<rect x="701.3" y="642.8" width="1.6" height="2.3" fill="#7b7b7b"/>
<text x="646.4" y="639.4" font-size="8.4" font-family='"Liberation Sans","IPAGothic",sans-serif' fill="#000" textLength="58.4" lengthAdjust="spacing">ページＴＯＰへ</text>
<line x1="645.00" y1="640.60" x2="708.00" y2="640.60" stroke="#8c8c8c" stroke-width="0.8" stroke-dasharray="1 1.6"/>
</svg></body></html>
